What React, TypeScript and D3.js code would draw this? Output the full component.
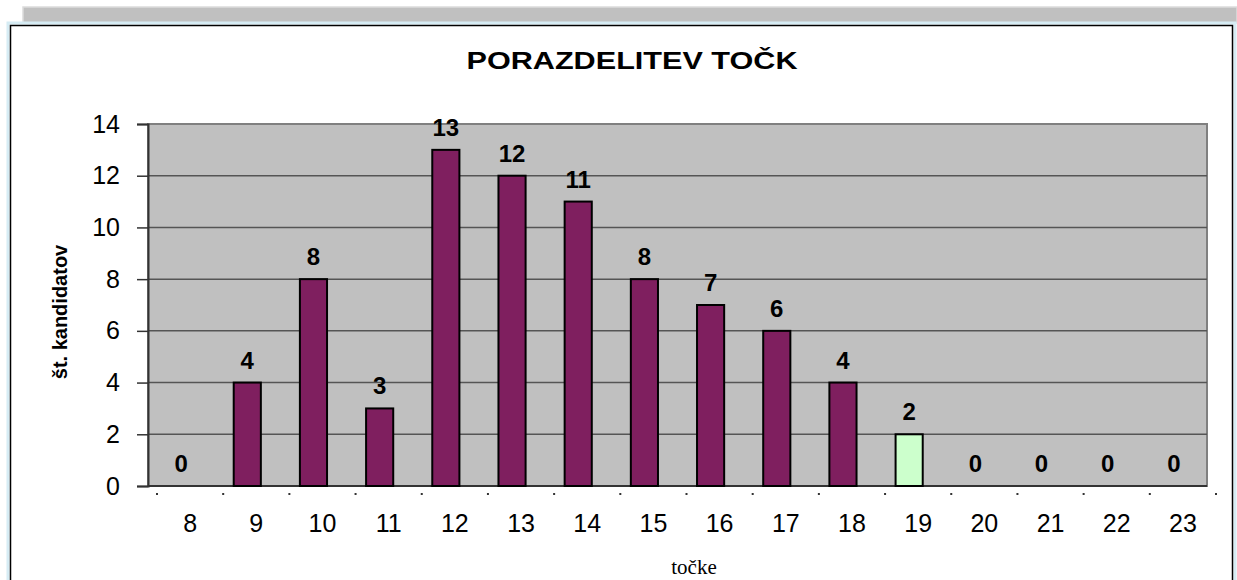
import { axisLeft, range, scaleBand, scaleLinear, select } from "d3";
import { useEffect, useRef } from "react";

const categories = ["8", "9", "10", "11", "12", "13", "14", "15", "16", "17", "18", "19", "20", "21", "22", "23"];
const counts = [0, 4, 8, 3, 13, 12, 11, 8, 7, 6, 4, 2, 0, 0, 0, 0];
const highlighted = ["19"];
const yTicks = [0, 2, 4, 6, 8, 10, 12, 14];

const chartTitle = "PORAZDELITEV TOČK";
const yTitle = "št. kandidatov";
const xTitle = "točke";

const W = 1237;
const H = 580;
const plot = { left: 148, top: 124, right: 1207, bottom: 486 };
const font = "Liberation Sans, Arial, sans-serif";

const App = () => {
  const svgRef = useRef<SVGSVGElement>(null);

  useEffect(() => {
    const svg = select(svgRef.current);
    svg.selectAll("*").remove();

    // window frame bits
    svg.append("rect").attr("x", 23).attr("y", 7).attr("width", W - 23).attr("height", 16)
      .attr("fill", "#c0c0c0").attr("stroke", "#dcdcdc").attr("stroke-width", 1.5);
    svg.append("rect").attr("x", 8).attr("y", 23).attr("width", 1227).attr("height", 570)
      .attr("fill", "#ffffff").attr("stroke", "#d6ecf4").attr("stroke-width", 3);
    svg.append("rect").attr("x", 10.5).attr("y", 25.5).attr("width", 1222).attr("height", 570)
      .attr("fill", "none").attr("stroke", "#000").attr("stroke-width", 1.5);

    const x = scaleBand<string>()
      .domain(categories)
      .range([plot.left, plot.right])
      .paddingInner(0.59)
      .paddingOuter(0.295);
    const y = scaleLinear().domain([0, 14]).range([plot.bottom, plot.top]);

    // plot area
    svg.append("rect")
      .attr("x", plot.left).attr("y", plot.top)
      .attr("width", plot.right - plot.left).attr("height", plot.bottom - plot.top)
      .attr("fill", "#c0c0c0").attr("stroke", "#808080").attr("stroke-width", 2);

    svg.append("g")
      .selectAll("line")
      .data(yTicks.slice(1, -1))
      .join("line")
      .attr("x1", plot.left).attr("x2", plot.right)
      .attr("y1", (d) => y(d)).attr("y2", (d) => y(d))
      .attr("stroke", "#555").attr("stroke-width", 1.5);

    // y axis
    const yAxis = svg.append("g")
      .attr("transform", `translate(${plot.left},0)`)
      .call(axisLeft(y).tickValues(yTicks).tickSize(11).tickPadding(17));
    yAxis.select(".domain").attr("stroke", "#333").attr("stroke-width", 2);
    yAxis.selectAll(".tick line").attr("stroke", "#333").attr("stroke-width", 1.5);
    yAxis.selectAll(".tick text")
      .attr("font-family", font).attr("font-size", 25).attr("fill", "#000");

    // x axis line and dotted ticks (shifted like the original)
    svg.append("line")
      .attr("x1", plot.left).attr("x2", plot.right)
      .attr("y1", plot.bottom).attr("y2", plot.bottom)
      .attr("stroke", "#333").attr("stroke-width", 2);

    const step = x.step();
    svg.append("g")
      .selectAll("rect")
      .data(range(categories.length + 1))
      .join("rect")
      .attr("x", (i) => plot.left + 9 + i * step - 1)
      .attr("y", 493)
      .attr("width", 2).attr("height", 2)
      .attr("fill", "#333");

    svg.append("g")
      .selectAll("text")
      .data(categories)
      .join("text")
      .attr("x", (d) => (x(d) as number) + x.bandwidth() / 2 + 9)
      .attr("y", 532)
      .attr("text-anchor", "middle")
      .attr("font-family", font).attr("font-size", 25)
      .text((d) => d);

    // bars
    svg.append("g")
      .selectAll("rect")
      .data(categories.filter((_, i) => counts[i] > 0))
      .join("rect")
      .attr("x", (d) => x(d) as number)
      .attr("y", (d) => y(counts[categories.indexOf(d)]))
      .attr("width", x.bandwidth())
      .attr("height", (d) => plot.bottom - y(counts[categories.indexOf(d)]))
      .attr("fill", (d) => (highlighted.includes(d) ? "#ccffcc" : "#7f1f5f"))
      .attr("stroke", "#000").attr("stroke-width", 2);

    // value labels
    svg.append("g")
      .selectAll("text")
      .data(categories)
      .join("text")
      .attr("x", (d) => (x(d) as number) + x.bandwidth() / 2)
      .attr("y", (d) => y(counts[categories.indexOf(d)]) - 14)
      .attr("text-anchor", "middle")
      .attr("font-family", font).attr("font-size", 24).attr("font-weight", "bold")
      .text((d) => counts[categories.indexOf(d)]);

    // titles
    svg.append("text")
      .attr("x", 632).attr("y", 69)
      .attr("text-anchor", "middle")
      .attr("font-family", font).attr("font-size", 24).attr("font-weight", "bold")
      .attr("textLength", 331).attr("lengthAdjust", "spacingAndGlyphs")
      .text(chartTitle);

    svg.append("text")
      .attr("transform", `translate(67,${(plot.top + plot.bottom) / 2 + 7}) rotate(-90)`)
      .attr("text-anchor", "middle")
      .attr("font-family", font).attr("font-size", 20).attr("font-weight", "bold")
      .text(yTitle);

    svg.append("text")
      .attr("x", 694).attr("y", 574)
      .attr("text-anchor", "middle")
      .attr("font-family", "Liberation Serif, Times New Roman, serif").attr("font-size", 21)
      .text(xTitle);
  }, []);

  return (
    <svg
      ref={svgRef}
      width={W}
      height={H}
      viewBox={`0 0 ${W} ${H}`}
      style={{ position: "absolute", left: 0, top: 0, background: "#fff" }}
    />
  );
};

export default App;
